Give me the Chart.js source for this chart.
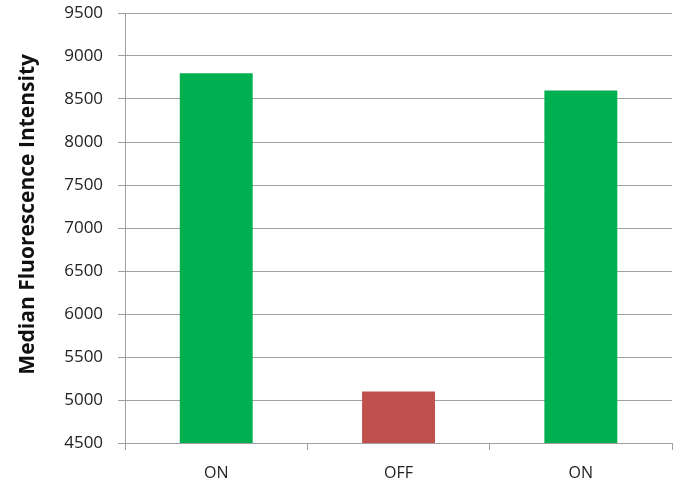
<!DOCTYPE html>
<html>
<head>
<meta charset="utf-8">
<script src="https://cdn.jsdelivr.net/npm/chart.js@4"></script>
<style>
    html, body { margin: 0; padding: 0; background: #fff; }
    #wrap { width: 681px; height: 486px; }
</style>
</head>
<body>
<div id="wrap"><canvas id="chart-mfi"></canvas></div>
<script>
var categories = ['ON', 'OFF', 'ON'];
var mfiValues = [8800, 5100, 8600];
var barColors = ['#00b050', '#c0504d', '#00b050'];
var yTicks = [4500, 5000, 5500, 6000, 6500, 7000, 7500, 8000, 8500, 9000, 9500];

var fontFamily = "'Open Sans', sans-serif";

var ctx = document.getElementById('chart-mfi');
new Chart(ctx, {
    type: 'bar',
    data: {
        labels: categories,
        datasets: [{
            data: mfiValues,
            backgroundColor: barColors,
            borderWidth: 0,
            barPercentage: 0.4,
            categoryPercentage: 1
        }]
    },
    options: {
        responsive: true,
        maintainAspectRatio: false,
        animation: false,
        layout: {
            padding: { left: 15, right: 9, top: 13, bottom: 0 }
        },
        plugins: {
            legend: { display: false },
            tooltip: { enabled: false }
        },
        scales: {
            x: {
                afterFit: function (scale) {
                    // keep the plot bottom where the original sits
                    scale.height = 43;
                },
                grid: {
                    display: true,
                    drawOnChartArea: false,
                    offset: true,
                    color: '#a0a0a0',
                    tickLength: 7
                },
                border: { color: '#a0a0a0', width: 1 },
                ticks: {
                    color: '#222',
                    padding: 14,
                    font: { family: fontFamily, size: 16 }
                }
            },
            y: {
                min: 4500,
                max: 9500,
                afterBuildTicks: function (axis) {
                    axis.ticks = yTicks.map(function (v) { return { value: v }; });
                },
                afterFit: function (scale) {
                    scale.paddingTop = 0;
                    scale.paddingBottom = 0;
                },
                grid: {
                    color: '#a0a0a0',
                    tickLength: 7
                },
                border: { color: '#a0a0a0', width: 1 },
                ticks: {
                    color: '#222',
                    padding: 15,
                    font: { family: fontFamily, size: 17 },
                    callback: function (value) { return String(value); }
                },
                title: {
                    display: true,
                    text: '     Median Fluorescence Intensity',
                    color: '#111',
                    font: { family: fontFamily, size: 21, weight: 'bold' },
                    padding: { top: 0, bottom: 9 }
                }
            }
        }
    }
});
</script>
</body>
</html>
